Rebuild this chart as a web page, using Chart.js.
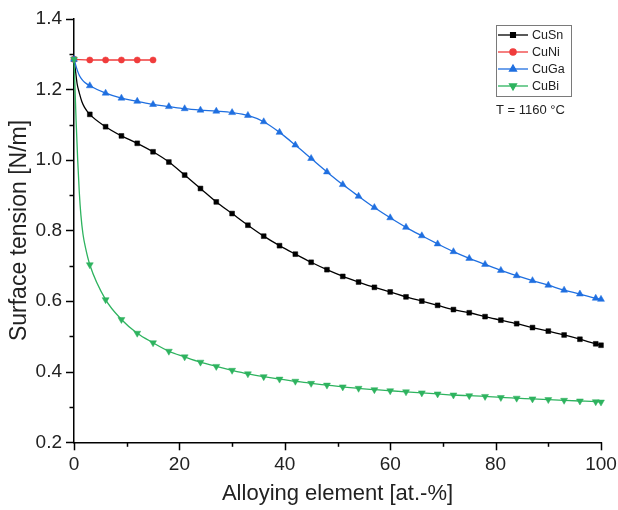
<!DOCTYPE html>
<html><head><meta charset="utf-8">
<script src="https://cdn.jsdelivr.net/npm/chart.js@4/dist/chart.umd.min.js"></script>
<style>html,body{margin:0;padding:0;background:#fff}</style>
</head><body>
<canvas id="c" width="618" height="510" style="width:618px;height:510px;display:block"></canvas>
<script>
// ---- data ----
const seriesNames = ['CuSn', 'CuNi', 'CuGa', 'CuBi'];
const tempLabel = 'T = 1160 °C';
const xTitle = 'Alloying element [at.-%]';
const yTitle = 'Surface tension [N/m]';

const snX = [0, 0.3, 0.6, 1, 1.5, 2, 3, 6, 9, 12, 15, 18, 21, 24, 27, 30, 33, 36, 39, 42, 45, 48, 51, 54, 57, 60, 63, 66, 69, 72, 75, 78, 81, 84, 87, 90, 93, 96, 99, 100];
const snY = [1.285, 1.25, 1.215, 1.19, 1.165, 1.149, 1.129, 1.094, 1.068, 1.047, 1.023, 0.994, 0.957, 0.919, 0.881, 0.848, 0.815, 0.784, 0.757, 0.733, 0.710, 0.689, 0.670, 0.654, 0.639, 0.626, 0.612, 0.600, 0.588, 0.576, 0.567, 0.556, 0.546, 0.536, 0.525, 0.515, 0.504, 0.492, 0.479, 0.475];

const niX = [0, 3, 6, 9, 12, 15];
const niY = [1.285, 1.283, 1.283, 1.283, 1.283, 1.283];

const gaX = [0, 0.3, 0.6, 1, 1.5, 2, 3, 6, 9, 12, 15, 18, 21, 24, 27, 30, 33, 36, 39, 42, 45, 48, 51, 54, 57, 60, 63, 66, 69, 72, 75, 78, 81, 84, 87, 90, 93, 96, 99, 100];
const gaY = [1.285, 1.27, 1.255, 1.24, 1.228, 1.22, 1.210, 1.189, 1.175, 1.166, 1.157, 1.151, 1.145, 1.141, 1.138, 1.134, 1.126, 1.108, 1.078, 1.042, 1.004, 0.966, 0.930, 0.897, 0.865, 0.836, 0.809, 0.785, 0.762, 0.740, 0.721, 0.704, 0.687, 0.672, 0.658, 0.645, 0.631, 0.620, 0.608, 0.605];

const biX = [0, 0.2, 0.4, 0.7, 1, 1.3, 1.7, 2.2, 3, 6, 9, 12, 15, 18, 21, 24, 27, 30, 33, 36, 39, 42, 45, 48, 51, 54, 57, 60, 63, 66, 69, 72, 75, 78, 81, 84, 87, 90, 93, 96, 99, 100];
const biY = [1.285, 1.2, 1.11, 1.0, 0.91, 0.845, 0.79, 0.75, 0.703, 0.604, 0.548, 0.509, 0.482, 0.458, 0.442, 0.427, 0.415, 0.404, 0.394, 0.386, 0.379, 0.373, 0.367, 0.362, 0.357, 0.353, 0.349, 0.346, 0.343, 0.340, 0.337, 0.334, 0.332, 0.330, 0.327, 0.325, 0.323, 0.321, 0.319, 0.317, 0.315, 0.314];

const xTicks = [0, 20, 40, 60, 80, 100];
const xMinorTicks = [10, 30, 50, 70, 90];
const yTicks = [0.2, 0.4, 0.6, 0.8, 1.0, 1.2, 1.4];
const yMinorTicks = [0.3, 0.5, 0.7, 0.9, 1.1, 1.3];

// ---- styles ----
const FONT = "'Liberation Sans', Arial, sans-serif";
const styles = [
  {color: '#000000', pointStyle: 'rect', radius: 3.4, rotation: 0},
  {color: '#f03c3c', pointStyle: 'circle', radius: 3.1, rotation: 0},
  {color: '#1f6fe0', pointStyle: 'triangle', radius: 4, rotation: 0},
  {color: '#2eb35f', pointStyle: 'triangle', radius: 4, rotation: 180}
];
const xsAll = [snX, niX, gaX, biX];
const ysAll = [snY, niY, gaY, biY];

const isMarker = x => (Math.abs(x % 3) < 1e-9) || x === 100;

const datasets = seriesNames.map((name, i) => ({
  label: name,
  data: xsAll[i].map((x, k) => ({x: x, y: ysAll[i][k]})),
  borderColor: styles[i].color,
  backgroundColor: styles[i].color,
  borderWidth: 1.3,
  pointStyle: styles[i].pointStyle,
  pointRotation: styles[i].rotation,
  pointRadius: ctx => (ctx.raw && isMarker(ctx.raw.x)) ? styles[i].radius : 0,
  pointBorderWidth: 0.5,
  cubicInterpolationMode: 'monotone',
  clip: false,
  order: 4 - i
}));

const decor = {
  id: 'decor',
  afterDraw(chart) {
    const ctx = chart.ctx;
    const xs = chart.scales.x, ys = chart.scales.y;
    ctx.save();
    ctx.strokeStyle = '#000';
    ctx.lineWidth = 1.5;
    const drawY = (v, len) => {
      const py = Math.round(ys.getPixelForValue(v)) + 0.5;
      ctx.beginPath(); ctx.moveTo(xs.left - len, py); ctx.lineTo(xs.left, py); ctx.stroke();
    };
    const drawX = (v, len) => {
      const px = Math.round(xs.getPixelForValue(v)) + 0.5;
      ctx.beginPath(); ctx.moveTo(px, ys.bottom); ctx.lineTo(px, ys.bottom + len); ctx.stroke();
    };
    yTicks.forEach(v => drawY(v, 8));
    yMinorTicks.forEach(v => drawY(v, 4.5));
    xTicks.forEach(v => drawX(v, 8));
    xMinorTicks.forEach(v => drawX(v, 4.5));

    // legend box
    const bx = 496, by = 25, bw = 75, bh = 71;
    ctx.lineWidth = 1;
    ctx.strokeStyle = '#7a7a7a';
    ctx.strokeRect(bx + 0.5, by + 0.5, bw, bh);
    ctx.font = '12.5px ' + FONT;
    ctx.textBaseline = 'middle';
    ctx.textAlign = 'left';
    seriesNames.forEach((name, i) => {
      const cy = 35 + i * 17;
      ctx.strokeStyle = styles[i].color;
      ctx.fillStyle = styles[i].color;
      ctx.lineWidth = 1.3;
      ctx.beginPath(); ctx.moveTo(498, cy); ctx.lineTo(528, cy); ctx.stroke();
      Chart.helpers.drawPoint(ctx, {pointStyle: styles[i].pointStyle, radius: styles[i].radius, rotation: styles[i].rotation, borderWidth: 0.5}, 513, cy);
      ctx.fillStyle = '#222';
      ctx.fillText(name, 532, cy + 0.5);
    });
    ctx.font = '13px ' + FONT;
    ctx.fillStyle = '#222';
    ctx.fillText(tempLabel, 496, 110);
    ctx.restore();
  }
};

new Chart(document.getElementById('c'), {
  type: 'line',
  data: {datasets},
  options: {
    responsive: false,
    animation: false,
    events: [],
    layout: {padding: {top: 18.7, right: 17, left: 0, bottom: 0}},
    plugins: {legend: {display: false}, tooltip: {enabled: false}},
    scales: {
      x: {
        type: 'linear', min: 0, max: 100,
        afterBuildTicks: s => { s.ticks = xTicks.map(v => ({value: v})); },
        afterFit: s => { s.height = 67.7; s.paddingLeft = 0; s.paddingRight = 0; },
        grid: {display: false, drawTicks: false},
        border: {display: true, color: '#000', width: 1.5},
        ticks: {color: '#222', font: {family: FONT, size: 19}, padding: 11, maxRotation: 0, autoSkip: false},
        title: {display: true, text: xTitle, color: '#222', font: {family: FONT, size: 22}, padding: {top: 0, bottom: 3}}
      },
      y: {
        type: 'linear', min: 0.2, max: 1.4,
        afterBuildTicks: s => { s.ticks = yTicks.map(v => ({value: v})); },
        afterFit: s => { s.width = 74; s.paddingTop = 0; s.paddingBottom = 0; },
        grid: {display: false, drawTicks: false},
        border: {display: true, color: '#000', width: 1.5},
        ticks: {color: '#222', font: {family: FONT, size: 19}, padding: 12, autoSkip: false, callback: v => Number(v).toFixed(1)},
        title: {display: true, text: yTitle, color: '#222', font: {family: FONT, size: 23}, padding: {top: 6, bottom: 0}}
      }
    }
  },
  plugins: [decor]
});
</script>
</body></html>
